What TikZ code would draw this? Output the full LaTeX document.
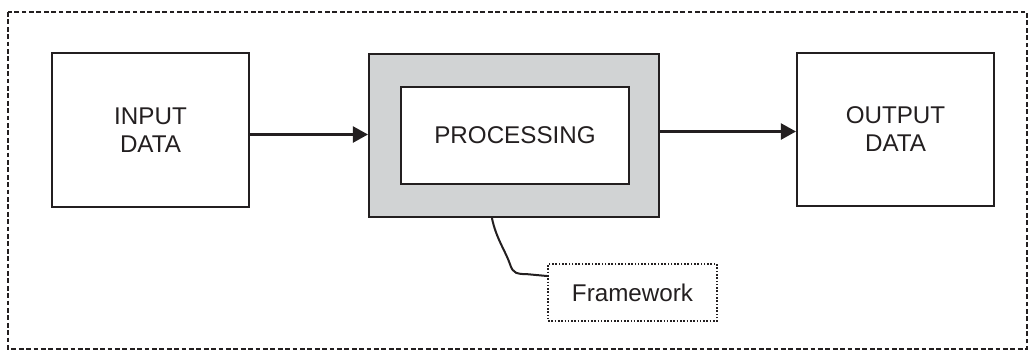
\documentclass[tikz,border=0pt]{standalone}
\usepackage{fontspec}
\setmainfont{Liberation Sans}
\usetikzlibrary{arrows.meta,calc}
\definecolor{ink}{HTML}{231F20}
\definecolor{procgrey}{HTML}{D1D3D4}
\begin{document}
\begin{tikzpicture}[x=0.5pt,y=-0.5pt,
  font=\fontsize{12.1}{14}\selectfont,
  box/.style={draw=ink,line width=1.05pt,fill=white,inner sep=0pt,align=center,text=ink},
  arr/.style={draw=ink,line width=1.1pt,-{Triangle[length=7.5pt,width=8pt]}},
  outerframe/.style={draw=ink,line width=1pt,dash pattern=on 2.4pt off 1.3pt},
  dotframe/.style={draw=ink,line width=1pt,dash pattern=on 0.8pt off 0.85pt,fill=white,inner sep=0pt,text=ink}]
\useasboundingbox (0,0) rectangle (1030,350);
\draw[outerframe] (8,12) rectangle (1027,349);
\node[box,minimum width=98.5pt,minimum height=77pt] (in) at (150.5,130) {INPUT\\DATA};
\node[box,fill=procgrey,minimum width=145pt,minimum height=81.5pt] (proc) at (514,135.5) {};
\node[box,minimum width=114pt,minimum height=48.5pt] (inner) at (515,135.5) {PROCESSING};
\node[box,minimum width=98.5pt,minimum height=76.5pt] (out) at (895.5,129.5) {OUTPUT\\DATA};
\node[dotframe,minimum width=84.5pt,minimum height=28.5pt] (fw) at (632.5,292.5) {Framework};
\coordinate (inarr) at ($(proc.west)+(0,-1)$);
\draw[arr] (in.east |- inarr) -- (inarr);
\coordinate (outarr) at ($(out.west)+(0,2)$);
\draw[arr] (proc.east |- outarr) -- (outarr);
\coordinate (cstart) at ($(proc.south west)+(124,0)$);
\coordinate (cend) at ($(fw.north west)+(0,13)$);
\draw[draw=ink,line width=1pt] (cstart) .. controls ($(cstart)+(4,20)$) and ($(cstart)+(14,34)$) .. ($(cstart)+(18,46)$)
  .. controls ($(cstart)+(21,56)$) and ($(cstart)+(26,56)$) .. ($(cstart)+(34,56)$) -- (cend);
\end{tikzpicture}
\end{document}
